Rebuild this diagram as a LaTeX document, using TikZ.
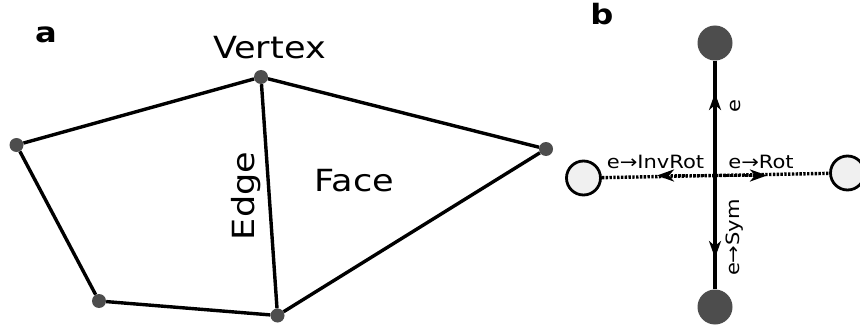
\documentclass[tikz,border=0pt]{standalone}
\usepackage{fontspec}
\setmainfont{DejaVu Sans}[FakeStretch=1.15]
\usetikzlibrary{arrows.meta}
\definecolor{dotgrey}{HTML}{4D4D4D}
\definecolor{pale}{HTML}{F0F0F0}
\tikzset{
  vtx/.style={circle, fill=dotgrey, draw=none, minimum size=14pt, inner sep=0pt},
  meshedge/.style={line width=3.4pt, line join=round},
  bigtxt/.style={font=\fontsize{30.5}{36}\selectfont, inner sep=0pt, anchor=base},
  smalltxt/.style={font=\fontsize{18.3}{22}\selectfont, inner sep=0pt, anchor=base},
  paneltag/.style={font=\fontsize{28}{34}\selectfont\bfseries, inner sep=0pt, anchor=base},
  primal/.style={circle, fill=dotgrey, draw=none, minimum size=35pt, inner sep=0pt},
  dual/.style={circle, fill=pale, draw=black, line width=2.8pt, minimum size=34pt, inner sep=0pt},
  solidbar/.style={line width=3.4pt},
  dotbar/.style={line width=3.4pt, dash pattern=on 2.4pt off 1.4pt},
  tip/.style={-{Stealth[length=17pt, width=12pt, inset=5pt]}}
}
\begin{document}
\begin{tikzpicture}[x=1pt, y=-1pt]
  \useasboundingbox (0,0) rectangle (860,329);

  % ---- panel a: a small mesh patch ----
  \node[vtx] (v1) at (261,77) {};
  \node[vtx] (v2) at (16.5,145) {};
  \node[vtx] (v3) at (99,301) {};
  \node[vtx] (v4) at (277.5,315.5) {};
  \node[vtx] (v5) at (546,149) {};

  \draw[meshedge] (v1) -- (v2);
  \draw[meshedge] (v2) -- (v3);
  \draw[meshedge] (v3) -- (v4);
  \draw[meshedge] (v4) -- (v1);
  \draw[meshedge] (v1) -- (v5);
  \draw[meshedge] (v5) -- (v4);

  \node[paneltag] (taga) at (46,42.5) {a};
  \node[bigtxt] (lvertex) at (269.5,58.3) {Vertex};
  \node[bigtxt] (lface) at (354.5,191.5) {Face};
  \node[bigtxt, rotate=90] (ledge) at (254,196) {Edge};

  % ---- panel b: an edge and its rotations ----
  \node[paneltag] (tagb) at (602,25) {b};

  \node[primal] (top) at (715,43) {};
  \node[primal] (bot) at (715,307) {};
  \node[dual] (lft) at (583.5,178) {};
  \node[dual] (rgt) at (847.5,173) {};

  \coordinate (c) at (715,175.5);
  \coordinate (tipu) at (715,93);
  \coordinate (tipd) at (715,258);
  \coordinate (tipl) at (657,175.5);
  \coordinate (tipr) at (767,175.5);

  \draw[dotbar] (lft) -- (rgt);
  \draw[dotbar, tip] (c) -- (tipl);
  \draw[dotbar, tip] (c) -- (tipr);

  \draw[solidbar] (top) -- (bot);
  \draw[solidbar, tip] (c) -- (tipu);
  \draw[solidbar, tip] (c) -- (tipd);

  \node[smalltxt, rotate=90] (le) at (740,106.5) {e};
  \node[smalltxt, rotate=90] (lsym) at (739.5,237.5) {e→Sym};
  \node[smalltxt] (linv) at (655.5,168) {e→InvRot};
  \node[smalltxt] (lrot) at (761,168) {e→Rot};
\end{tikzpicture}
\end{document}
